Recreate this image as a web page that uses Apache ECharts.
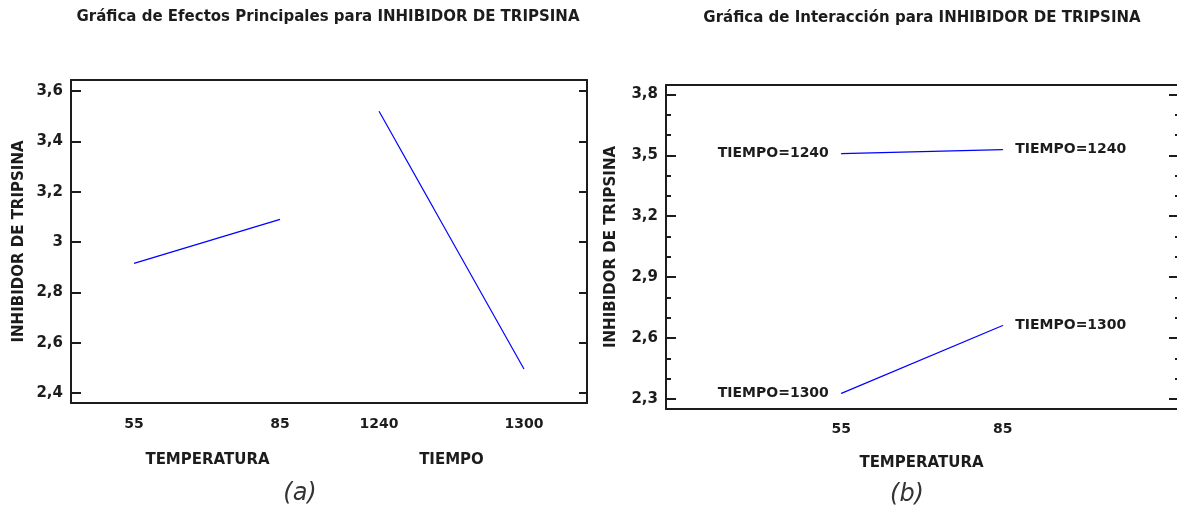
<!DOCTYPE html>
<html>
<head>
<meta charset="utf-8">
<script src="https://cdn.jsdelivr.net/npm/echarts@6/dist/echarts.min.js"></script>
<style>
  html, body { margin: 0; padding: 0; background: #fff; }
  #chart { width: 1177px; height: 512px; }
</style>
</head>
<body>
<div id="chart"></div>
<script>
// factor levels
const tempLevels = [55, 85]
const tiempoLevels = [1240, 1300]

// main effects (means)
const tempMeans = [2.915, 3.09]
const tiempoMeans = [3.52, 2.495]

// interaction means, by TEMPERATURA level
const inter1240 = [3.508, 3.528]
const inter1300 = [2.328, 2.662]

// tick values
const effectTicks = [2.4, 2.6, 2.8, 3, 3.2, 3.4, 3.6]
const interMajorTicks = [2.3, 2.6, 2.9, 3.2, 3.5, 3.8]
const interMinorTicks = [2.4, 2.5, 2.7, 2.8, 3.0, 3.1, 3.3, 3.4, 3.6, 3.7]

const FONT = 'DejaVu Sans'
const INK = '#1c1c1c'
const BLUE = '#0000ff'

const chart = echarts.init(document.getElementById('chart'))

const commaFmt = (v) => String(v).replace('.', ',')

const lineStyle = { color: INK, width: 2 }

// bottom x axis with labels at the factor levels
const xBottom = (gridIndex, min, max, levels, name, margin, nameGap, namePad) => ({
  type: 'value',
  gridIndex,
  position: 'bottom',
  min,
  max,
  axisLine: { show: true, onZero: false, lineStyle },
  axisTick: { show: false },
  splitLine: { show: false },
  axisLabel: {
    customValues: levels,
    formatter: (v) => String(v),
    margin,
    color: INK,
    fontFamily: FONT,
    fontWeight: 'bold',
    fontSize: 14,
  },
  name,
  nameLocation: 'middle',
  nameGap,
  nameTextStyle: {
    color: INK,
    fontFamily: FONT,
    fontWeight: 'bold',
    fontSize: 15,
    padding: namePad,
  },
})

// plain top border
const xTop = (gridIndex, min, max) => ({
  type: 'value',
  gridIndex,
  position: 'top',
  min,
  max,
  axisLine: { show: true, onZero: false, lineStyle },
  axisTick: { show: false },
  axisLabel: { show: false },
  splitLine: { show: false },
})

const yAxis = (gridIndex, position, min, max, ticks, tickLen, opts = {}) => ({
  type: 'value',
  gridIndex,
  position,
  min,
  max,
  axisLine: { show: opts.line !== false, onZero: false, lineStyle },
  axisTick: {
    show: true,
    inside: true,
    length: tickLen,
    customValues: ticks,
    lineStyle: { color: INK, width: 2 },
  },
  splitLine: { show: false },
  axisLabel: opts.labels
    ? {
        customValues: ticks,
        formatter: commaFmt,
        margin: 8,
        color: INK,
        fontFamily: FONT,
        fontWeight: 'bold',
        fontSize: 15,
      }
    : { show: false },
  name: opts.name || '',
  nameLocation: 'middle',
  nameGap: opts.nameGap || 0,
  nameRotate: 90,
  nameTextStyle: {
    color: INK,
    fontFamily: FONT,
    fontWeight: 'bold',
    fontSize: 15,
  },
})

const pairs = (xs, ys) => xs.map((x, i) => [x, ys[i]])

const interData = (ys) =>
  tempLevels.map((t, i) => ({
    value: [t, ys[i]],
    label: { position: i === 0 ? 'left' : 'right' },
  }))

const interLabel = {
  show: true,
  distance: 12,
  formatter: (p) => p.seriesName,
  color: INK,
  fontFamily: FONT,
  fontWeight: 'bold',
  fontSize: 14,
}

const option = {
  animation: false,
  grid: [
    { left: 71, top: 80, width: 259, height: 323, outerBoundsMode: 'none', containLabel: false },
    { left: 330, top: 80, width: 257, height: 323, outerBoundsMode: 'none', containLabel: false },
    { left: 666, top: 85, right: 0, height: 324, outerBoundsMode: 'none', containLabel: false },
  ],
  xAxis: [
    xBottom(0, 42.06, 95.27, tempLevels, 'TEMPERATURA', 14, 50, [0, 0, 0, 14]),
    xBottom(1, 1219.7, 1326.1, tiempoLevels, 'TIEMPO', 14, 50, [0, 14, 0, 0]),
    xTop(0, 42.06, 95.27),
    xTop(1, 1219.7, 1326.1),
    xBottom(2, 22.4, 117.4, tempLevels, 'TEMPERATURA', 13, 47, 0),
    xTop(2, 22.4, 117.4),
  ],
  yAxis: [
    yAxis(0, 'left', 2.36, 3.644, effectTicks, 10, {
      labels: true,
      name: 'INHIBIDOR DE TRIPSINA',
      nameGap: 44,
    }),
    yAxis(1, 'right', 2.36, 3.644, effectTicks, 8),
    yAxis(2, 'left', 2.251, 3.846, interMajorTicks, 10, {
      labels: true,
      name: 'INHIBIDOR DE TRIPSINA',
      nameGap: 47,
    }),
    yAxis(2, 'left', 2.251, 3.846, interMinorTicks, 5, { line: false }),
    yAxis(2, 'right', 2.251, 3.846, interMajorTicks, 8, { line: false }),
    yAxis(2, 'right', 2.251, 3.846, interMinorTicks, 2, { line: false }),
  ],
  series: [
    {
      name: 'TEMPERATURA',
      type: 'line',
      xAxisIndex: 0,
      yAxisIndex: 0,
      symbol: 'none',
      data: pairs(tempLevels, tempMeans),
      lineStyle: { color: BLUE, width: 1.2 },
    },
    {
      name: 'TIEMPO',
      type: 'line',
      xAxisIndex: 1,
      yAxisIndex: 1,
      symbol: 'none',
      data: pairs(tiempoLevels, tiempoMeans),
      lineStyle: { color: BLUE, width: 1.2 },
    },
    {
      name: 'TIEMPO=1240',
      type: 'line',
      xAxisIndex: 4,
      yAxisIndex: 2,
      symbol: 'circle',
      symbolSize: 1,
      itemStyle: { color: BLUE },
      data: interData(inter1240),
      label: interLabel,
      lineStyle: { color: BLUE, width: 1.2 },
    },
    {
      name: 'TIEMPO=1300',
      type: 'line',
      xAxisIndex: 4,
      yAxisIndex: 2,
      symbol: 'circle',
      symbolSize: 1,
      itemStyle: { color: BLUE },
      data: interData(inter1300),
      label: interLabel,
      lineStyle: { color: BLUE, width: 1.2 },
    },
  ],
  graphic: [
    {
      type: 'text',
      x: 328,
      y: 17,
      style: {
        text: 'Gráfica de Efectos Principales para INHIBIDOR DE TRIPSINA',
        font: 'bold 15px "DejaVu Sans"',
        fill: INK,
        textAlign: 'center',
        textVerticalAlign: 'middle',
      },
    },
    {
      type: 'text',
      x: 922,
      y: 18,
      style: {
        text: 'Gráfica de Interacción para INHIBIDOR DE TRIPSINA',
        font: 'bold 15px "DejaVu Sans"',
        fill: INK,
        textAlign: 'center',
        textVerticalAlign: 'middle',
      },
    },
    {
      type: 'text',
      x: 300,
      y: 494,
      style: {
        text: '(a)',
        font: 'oblique 24px "DejaVu Sans"',
        fill: '#333',
        textAlign: 'center',
        textVerticalAlign: 'middle',
      },
    },
    {
      type: 'text',
      x: 907,
      y: 495,
      style: {
        text: '(b)',
        font: 'oblique 24px "DejaVu Sans"',
        fill: '#333',
        textAlign: 'center',
        textVerticalAlign: 'middle',
      },
    },
  ],
}

chart.setOption(option)
</script>
</body>
</html>
